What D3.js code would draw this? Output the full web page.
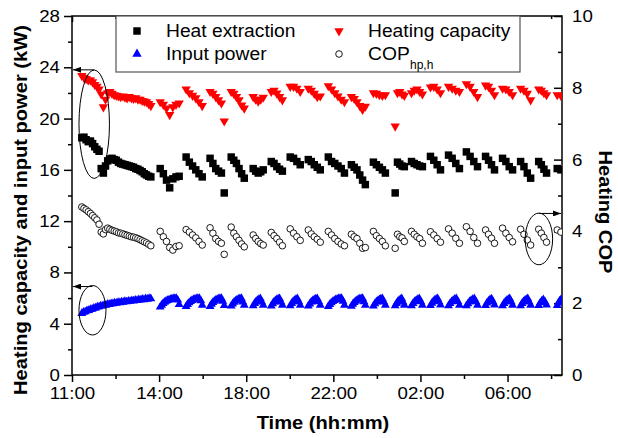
<!DOCTYPE html>
<html>
<head>
<meta charset="utf-8">
<script src="https://cdn.jsdelivr.net/npm/d3@7"></script>
<style>
body { margin: 0; background: #fff; }
svg { display: block; }
</style>
</head>
<body>
<script>
// time axis: hours after the first tick, labels as printed on the chart
var tickHours = [0, 4, 8, 12, 16, 20],
    tickLabels = ["11:00", "14:00", "18:00", "22:00", "02:00", "06:00"],
    minorHours = [2, 6, 10, 14, 18, 22];

// start / end (hours) of each compressor on-period, first one is the long start-up run
var onStart = [0.45, 4.05, 5.24, 6.34, 7.31, 8.32, 9.15, 10.02, 10.85, 11.77, 12.83,
               13.84, 14.84, 15.59, 16.46, 17.29, 18.11, 18.99, 19.77, 20.60, 21.43, 22.28],
    onEnd   = [3.62, 4.92, 5.98, 6.99, 7.91, 8.78, 9.66, 10.48, 11.40, 12.51, 13.47,
               14.39, 15.26, 16.09, 16.92, 17.79, 18.62, 19.40, 20.23, 21.06, 21.79, 22.45];

// readings per on-period (kW), evenly sampled over the period
var heatExtraction = [
  [18.5,18.55,18.35,18.2,18.25,18.05,17.8,17.6,17.45,16.1,15.75,16.3,16.7,16.85,16.9,16.8,16.75,
   16.6,16.5,16.45,16.4,16.35,16.3,16.25,16.2,16.1,16.05,15.95,15.85,15.7,15.6,15.5,15.45],
  [16.1,15.7,15.2,14.6,15.3,15.45,15.5],
  [17.0,16.6,16.3,16.0,15.7,15.45],
  [16.9,16.5,16.1,15.9,15.75,14.2],
  [17.0,16.75,16.5,16.1,15.7,15.35],
  [16.1,15.9,15.75,15.85,16.0],
  [16.65,16.5,16.25,16.05,15.9],
  [17.0,16.9,16.65,16.4],
  [16.8,16.65,16.4,16.2,16.0],
  [17.0,16.65,16.5,16.3,16.1,15.75],
  [16.4,16.2,16.0,15.6,15.2,14.85],
  [16.6,16.4,16.2,16.0,15.75],
  [14.2,16.6,16.45,16.3,16.25],
  [16.65,16.5,16.4,16.3,16.25],
  [17.05,16.75,16.4,16.0],
  [17.15,16.9,16.5,16.1],
  [17.4,17.05,16.65,16.25],
  [17.05,16.75,16.4,16.0],
  [16.9,16.65,16.25,16.0],
  [16.65,16.25,15.75,15.35],
  [16.65,16.4,16.05,15.75],
  [16.1,16.0]
];

var heatingCapacity = [
  [23.35,23.2,23.1,23.0,23.0,22.85,22.65,22.5,22.3,21.9,20.9,21.5,22.0,22.1,21.95,21.85,21.8,
   21.75,21.7,21.75,21.65,21.6,21.7,21.6,21.55,21.6,21.5,21.5,21.4,21.35,21.3,21.15,21.0],
  [21.3,21.1,20.8,20.3,20.9,21.1,21.2],
  [22.3,22.0,21.8,21.6,21.3,21.0],
  [22.1,21.95,21.7,21.45,21.2,19.8],
  [22.1,21.95,21.7,21.45,21.05,20.8],
  [21.7,21.5,21.35,21.5,21.65],
  [22.1,22.2,21.97,21.7,21.45],
  [22.5,22.5,22.35,22.1],
  [22.35,22.2,21.95,21.7,21.75],
  [22.55,22.3,22.0,21.75,21.5,21.3],
  [21.7,21.55,21.3,21.0,20.7,20.95],
  [22.0,21.95,21.85,21.8,21.85],
  [19.4,22.0,22.1,21.9,21.8],
  [22.0,22.2,22.3,22.1,21.9],
  [22.45,22.5,22.3,22.0],
  [22.5,22.35,22.2,22.1],
  [22.7,22.5,22.1,21.7],
  [22.6,22.5,22.2,21.85],
  [22.35,22.3,22.1,21.85],
  [22.35,22.2,21.95,21.45],
  [22.3,22.2,22.0,21.85],
  [21.85,21.8]
];

var inputPower = [
  [4.8,4.9,4.93,5.02,5.04,5.12,5.14,5.22,5.23,5.31,5.32,5.4,5.38,5.46,5.45,5.52,5.5,5.57,5.56,
   5.62,5.6,5.66,5.64,5.7,5.68,5.74,5.71,5.77,5.75,5.81,5.78,5.84,5.82,5.88,5.85,5.91,5.88,5.95,
   5.92,5.98,5.96],
  [5.3,5.45,5.58,5.68,5.76,5.82,5.86,5.9,5.93,5.95,5.97,5.98,5.85,5.5],
  [5.35,5.5,5.63,5.74,5.82,5.88,5.92,5.95,5.97,5.98,5.8,5.45],
  [5.35,5.52,5.66,5.76,5.84,5.9,5.94,5.97,5.98,5.75,5.42],
  [5.38,5.55,5.68,5.78,5.86,5.91,5.95,5.97,5.7,5.45],
  [5.4,5.58,5.72,5.82,5.9,5.95,5.7,5.45],
  [5.38,5.56,5.7,5.8,5.88,5.93,5.96,5.7,5.45],
  [5.4,5.58,5.72,5.83,5.9,5.95,5.72,5.45],
  [5.38,5.55,5.7,5.8,5.88,5.93,5.96,5.72,5.45],
  [5.35,5.5,5.63,5.73,5.81,5.87,5.92,5.95,5.97,5.98,5.75,5.45],
  [5.36,5.52,5.65,5.75,5.83,5.89,5.93,5.96,5.97,5.72,5.44],
  [5.38,5.56,5.7,5.8,5.88,5.93,5.96,5.7,5.45],
  [5.4,5.58,5.72,5.82,5.9,5.95,5.7,5.45],
  [5.4,5.58,5.73,5.83,5.9,5.95,5.72,5.45],
  [5.42,5.6,5.74,5.84,5.91,5.96,5.72,5.46],
  [5.4,5.58,5.72,5.83,5.91,5.96,5.73,5.45],
  [5.4,5.57,5.72,5.82,5.9,5.95,5.72,5.45],
  [5.42,5.62,5.77,5.87,5.94,5.72,5.46],
  [5.4,5.58,5.72,5.82,5.9,5.95,5.72,5.45],
  [5.4,5.58,5.73,5.83,5.9,5.95,5.7,5.45],
  [5.42,5.63,5.78,5.88,5.7,5.46],
  [5.42,5.62,5.78,5.88]
];

// heating COP (right axis)
var copHph = [
  [4.68,4.64,4.6,4.55,4.5,4.44,4.38,4.32,4.2,3.98,3.93,4.05,4.09,4.06,4.03,4.01,3.99,3.96,3.95,
   3.93,3.91,3.89,3.87,3.85,3.84,3.82,3.8,3.77,3.74,3.71,3.68,3.64,3.6],
  [4.0,3.85,3.72,3.55,3.48,3.58,3.6],
  [4.05,3.98,3.9,3.82,3.72,3.62],
  [4.1,3.95,3.8,3.72,3.67,3.36],
  [4.12,3.95,3.85,3.75,3.65,3.57],
  [3.9,3.8,3.72,3.66,3.62],
  [3.97,3.88,3.8,3.7,3.6],
  [4.07,3.95,3.85,3.75],
  [4.04,3.93,3.85,3.78,3.7],
  [4.0,3.9,3.8,3.72,3.65,3.6],
  [3.92,3.85,3.8,3.67,3.53,3.55],
  [4.0,3.88,3.8,3.72,3.6],
  [3.53,3.92,3.85,3.82,3.72],
  [4.0,3.92,3.85,3.8,3.67],
  [3.99,3.9,3.8,3.7],
  [4.07,3.95,3.81,3.67],
  [4.13,4.0,3.83,3.67],
  [4.04,3.92,3.81,3.67],
  [4.09,3.95,3.83,3.71],
  [4.06,3.92,3.76,3.62],
  [4.06,3.95,3.83,3.7],
  [4.04,3.98]
];

// ellipse call-outs: centre (t, value), radii, arrow level, which axis
var callouts = [
  {t: 1.02, v: 19.56, rt: 0.70, rv: 4.23, arrowV: 23.8, axis: "left"},
  {t: 0.94, v: 5.05, rt: 0.62, rv: 1.93, arrowV: 6.9, axis: "left"},
  {t: 21.44, v: 3.79, rt: 0.63, rv: 0.72, arrowV: 4.5, axis: "right"}
];

var W = 618, H = 438,
    margin = {top: 16, right: 56, bottom: 63, left: 72},
    width = W - margin.left - margin.right,
    height = H - margin.top - margin.bottom,
    font = "'Liberation Sans', Arial, sans-serif";

var x = d3.scaleLinear().domain([0, 22.5]).range([0, width]),
    yL = d3.scaleLinear().domain([0, 28]).range([height, 0]),
    yR = d3.scaleLinear().domain([0, 10]).range([height, 0]);

var svg = d3.select("body").append("svg")
    .attr("width", W)
    .attr("height", H),
    g = svg.append("g").attr("transform", "translate(" + margin.left + "," + margin.top + ")");

svg.append("defs").append("clipPath").attr("id", "plotclip")
  .append("rect").attr("width", width).attr("height", height);

// flatten per-period readings into (t, value) points
function points(series) {
  var out = [];
  series.forEach(function(vals, k) {
    var n = vals.length, t0 = onStart[k], t1 = onEnd[k];
    vals.forEach(function(v, i) {
      out.push({t: n > 1 ? t0 + i * (t1 - t0) / (n - 1) : t0, v: v});
    });
  });
  return out;
}

function axisStyle(sel) {
  sel.select(".domain").remove();
  sel.selectAll("line").attr("stroke", "#000").attr("stroke-width", 1.5);
  sel.selectAll("text").attr("fill", "#000").style("font-family", font).style("font-size", "17px");
}

// axes
g.append("g").attr("transform", "translate(0," + height + ")")
  .call(d3.axisBottom(x).tickValues(tickHours).tickFormat(function(d, i) { return tickLabels[i]; })
    .tickSizeInner(7).tickSizeOuter(0).tickPadding(5))
  .call(axisStyle);
g.append("g").attr("transform", "translate(0," + height + ")")
  .call(d3.axisBottom(x).tickValues(minorHours).tickFormat("").tickSizeInner(4).tickSizeOuter(0))
  .call(axisStyle);
g.append("g")
  .call(d3.axisTop(x).tickValues(tickHours).tickFormat("").tickSizeInner(-6).tickSizeOuter(0))
  .call(axisStyle);
g.append("g")
  .call(d3.axisTop(x).tickValues(minorHours).tickFormat("").tickSizeInner(-3).tickSizeOuter(0))
  .call(axisStyle);
g.append("g")
  .call(d3.axisLeft(yL).tickValues(d3.range(0, 29, 4)).tickSizeInner(8).tickSizeOuter(0).tickPadding(4))
  .call(axisStyle);
g.append("g")
  .call(d3.axisLeft(yL).tickValues(d3.range(2, 28, 4)).tickFormat("").tickSizeInner(4).tickSizeOuter(0))
  .call(axisStyle);
g.append("g").attr("transform", "translate(" + width + ",0)")
  .call(d3.axisRight(yR).tickValues(d3.range(0, 11, 2)).tickSizeInner(-8).tickSizeOuter(0).tickPadding(10))
  .call(axisStyle);
g.append("g").attr("transform", "translate(" + width + ",0)")
  .call(d3.axisRight(yR).tickValues(d3.range(1, 10, 2)).tickFormat("").tickSizeInner(-4).tickSizeOuter(0))
  .call(axisStyle);

g.append("rect")
  .attr("width", width).attr("height", height)
  .attr("fill", "none").attr("stroke", "#000").attr("stroke-width", 1.5);

// data
var plot = g.append("g").attr("clip-path", "url(#plotclip)");
var square = d3.symbol().type(d3.symbolSquare).size(56),
    triSmall = d3.symbol().type(d3.symbolTriangle).size(34),
    triBig = d3.symbol().type(d3.symbolTriangle).size(38);

plot.selectAll(".he").data(points(heatExtraction)).enter().append("path")
  .attr("d", square)
  .attr("transform", function(d) { return "translate(" + x(d.t) + "," + yL(d.v) + ")"; })
  .attr("fill", "#000");

plot.selectAll(".hc").data(points(heatingCapacity)).enter().append("path")
  .attr("d", triBig)
  .attr("transform", function(d) { return "translate(" + x(d.t) + "," + yL(d.v) + ") rotate(180)"; })
  .attr("fill", "#ff0000");

plot.selectAll(".ip").data(points(inputPower)).enter().append("path")
  .attr("d", triSmall)
  .attr("transform", function(d) { return "translate(" + x(d.t) + "," + yL(d.v) + ")"; })
  .attr("fill", "#0000ff");

plot.selectAll(".cop").data(points(copHph)).enter().append("circle")
  .attr("cx", function(d) { return x(d.t); })
  .attr("cy", function(d) { return yR(d.v); })
  .attr("r", 3.3)
  .attr("fill", "#fff").attr("stroke", "#000").attr("stroke-width", 0.9);

// call-out ellipses with arrows to their axis
svg.select("defs").append("marker")
  .attr("id", "arrow").attr("viewBox", "0 0 8 6").attr("refX", 8).attr("refY", 3)
  .attr("markerWidth", 8).attr("markerHeight", 6).attr("markerUnits", "userSpaceOnUse")
  .attr("orient", "auto")
  .append("path").attr("d", "M0,0L8,3L0,6Z").attr("fill", "#000");

callouts.forEach(function(c) {
  var yS = c.axis === "left" ? yL : yR;
  g.append("ellipse")
    .attr("cx", x(c.t)).attr("cy", yS(c.v))
    .attr("rx", x(c.rt) - x(0)).attr("ry", yS(0) - yS(c.rv))
    .attr("fill", "none").attr("stroke", "#000").attr("stroke-width", 1);
  g.append("line")
    .attr("x1", x(c.t)).attr("x2", c.axis === "left" ? 1 : width - 1)
    .attr("y1", yS(c.arrowV)).attr("y2", yS(c.arrowV))
    .attr("stroke", "#000").attr("stroke-width", 1)
    .attr("marker-end", "url(#arrow)");
});

// legend
var legend = svg.append("g");
legend.append("rect")
  .attr("x", 116).attr("y", 16).attr("width", 404).attr("height", 56)
  .attr("fill", "#fff").attr("stroke", "#555").attr("stroke-width", 1.2);

var legendItems = [
  {label: "Heat extraction", x: 137, y: 31, kind: "he"},
  {label: "Input power", x: 137, y: 54, kind: "ip"},
  {label: "Heating capacity", x: 339, y: 31, kind: "hc"},
  {label: "COP", x: 339, y: 54, kind: "cop"}
];
legendItems.forEach(function(d) {
  var m;
  if (d.kind === "he") m = legend.append("path").attr("d", square).attr("fill", "#000");
  if (d.kind === "ip") m = legend.append("path").attr("d", triBig).attr("fill", "#0000ff");
  if (d.kind === "hc") m = legend.append("path").attr("d", triBig).attr("fill", "#ff0000");
  if (d.kind === "cop") m = legend.append("circle").attr("r", 3.3).attr("fill", "#fff")
      .attr("stroke", "#000").attr("stroke-width", 0.9);
  m.attr("transform", "translate(" + d.x + "," + d.y + ")" + (d.kind === "hc" ? " rotate(180)" : ""));
  legend.append("text").attr("class", "stretch")
    .attr("x", d.x + 29).attr("y", d.y + 6)
    .style("font-family", font).style("font-size", "17.5px")
    .text(d.label);
});
legend.append("text")
  .attr("x", 410).attr("y", 68.5)
  .style("font-family", font).style("font-size", "12px")
  .text("hp,h");

// axis titles
svg.append("text")
  .attr("transform", "translate(27,210) rotate(-90)")
  .attr("text-anchor", "middle")
  .style("font-family", font).style("font-size", "18.3px").style("font-weight", "bold")
  .text("Heating capacity and input power (kW)");
svg.append("text")
  .attr("transform", "translate(598.5,212) rotate(90)")
  .attr("text-anchor", "middle")
  .style("font-family", font).style("font-size", "18.3px").style("font-weight", "bold")
  .text("Heating COP");
svg.append("text")
  .attr("x", 323).attr("y", 429)
  .attr("text-anchor", "middle")
  .style("font-family", font).style("font-size", "18.3px").style("font-weight", "bold")
  .text("Time (hh:mm)");

// the source font runs wider than Arial; widen every label a little
svg.selectAll("text").each(function() {
  var w = this.getComputedTextLength();
  if (w > 0 && d3.select(this).text() !== "hp,h")
    d3.select(this).attr("textLength", w * 1.1).attr("lengthAdjust", "spacingAndGlyphs");
});
</script>
</body>
</html>
